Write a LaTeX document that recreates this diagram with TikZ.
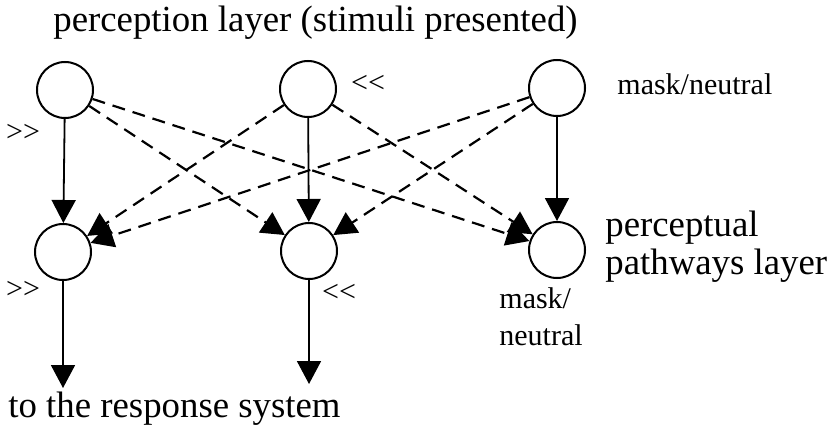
\documentclass[tikz,border=0pt]{standalone}
\usepackage{fontspec}
\setmainfont{Liberation Serif}
\usetikzlibrary{arrows.meta}

\begin{document}
\begin{tikzpicture}[x=0.5pt,y=-0.5pt,
    unit/.style={circle,draw,line width=1pt,minimum size=28pt,inner sep=0pt},
    link/.style={line width=0.9pt,-{Triangle[length=11.5pt,width=12pt]}},
    cross/.style={link,line width=1.1pt,dash pattern=on 6.5pt off 4pt},
    big/.style={inner sep=0pt,anchor=base west,font=\fontsize{18.4}{21}\selectfont},
    small/.style={inner sep=0pt,font=\fontsize{15}{17}\selectfont}]
      \useasboundingbox (0,0) rectangle (833,444);
      \foreach \pos/\name in {{(65,90)/s1}, {(308,89)/s2}, {(557,88)/s3}, {(63,252)/w1}, {(309,251)/w2}, {(557,250)/w3}}
      \node[unit] (\name) at \pos {};
      \coordinate (r1) at (63,388);
      \coordinate (r2) at (309,384);
      \foreach \source/ \dest in {s1/w1, s2/w2, s3/w3, w1/r1, w2/r2}
      \path[draw,link] (\source) -- (\dest);
      \foreach \source/ \dest in {s1/w2, s1/w3, s2/w1, s2/w3, s3/w1, s3/w2}
      \path[draw,cross] (\source) -- (\dest);
      % layer names
      \node[big] (title) at (53,32) {perception layer (stimuli presented)};
      \node[big] (perc) at (605,236) {perceptual};
      \node[big] (path) at (605,274) {pathways layer};
      \node[big] (resp) at (8,417) {to the response system};
      % unit labels
      \node[small] (g1) at (23,133) {>\kern0pt>};
      \node[small] (g2) at (23,290) {>\kern0pt>};
      \node[small] (l1) at (368,84) {<\kern0pt<};
      \node[small] (l2) at (339,293) {<\kern0pt<};
      \node[small,anchor=base west] (m1) at (617,95) {mask/neutral};
      \node[small,anchor=base west] (m2) at (499,308) {mask/};
      \node[small,anchor=base west] (m3) at (499,345) {neutral};
    \end{tikzpicture}
\end{document}
